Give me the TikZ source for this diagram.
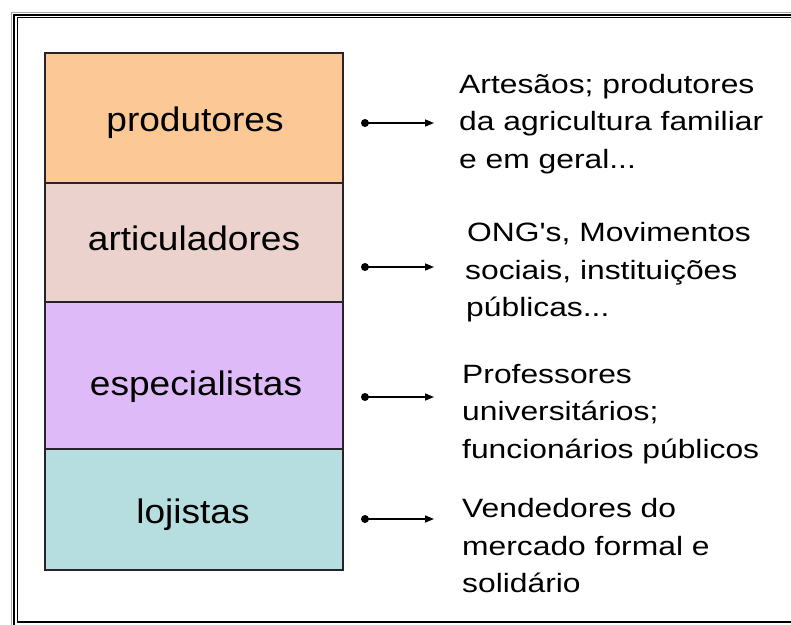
\documentclass[tikz,border=0pt]{standalone}
\usepackage{fontspec}
\setmainfont{Liberation Sans}
\newfontfamily\labfont[FakeStretch=1.09]{Liberation Sans}
\newfontfamily\txtfont[FakeStretch=1.2]{Liberation Sans}
\usetikzlibrary{arrows.meta}
\definecolor{cprod}{RGB}{252,200,150}
\definecolor{cart}{RGB}{235,210,205}
\definecolor{cesp}{RGB}{222,186,248}
\definecolor{cloj}{RGB}{182,222,224}
\definecolor{edge}{RGB}{40,35,40}
\tikzset{
  layer/.style={draw=edge, line width=1.4pt},
  lab/.style={font=\labfont\fontsize{34}{40}\selectfont, anchor=base, inner sep=0pt},
  txt/.style={font=\txtfont\fontsize{26.5}{32}\selectfont, anchor=base west, inner sep=0pt},
  dotn/.style={circle, fill=black, inner sep=0pt, minimum size=8pt},
  conn/.style={line width=1.5pt, -{Triangle[length=9pt,width=7pt]}}
}
\begin{document}
\begin{tikzpicture}[x=1pt,y=-1pt]
\useasboundingbox (0,0) rectangle (791,624);
\fill[white] (0,0) rectangle (791,624);
% frame
\begin{scope}
\clip (0,0) rectangle (791,624);
\draw[gray!70, line width=0.8pt] (11,12) rectangle (802,632);
\draw[black, line width=2pt] (14,14.7) rectangle (799,629);
\draw[black, line width=1.3pt] (17.5,17.8) rectangle (795,622);
\end{scope}
% layers
\draw[layer, fill=cprod] (45,53) rectangle (343,183);
\draw[layer, fill=cart] (45,183) rectangle (343,302);
\draw[layer, fill=cesp] (45,302) rectangle (343,449);
\draw[layer, fill=cloj] (45,449) rectangle (343,570);
\node[lab] (l1) at (195,131.5) {produtores};
\node[lab] (l2) at (194,250) {articuladores};
\node[lab] (l3) at (196,395) {especialistas};
\node[lab] (l4) at (193,523) {lojistas};
% connectors
\node[dotn] (d1) at (365,123) {};
\node[dotn] (d2) at (365,267) {};
\node[dotn] (d3) at (365,397) {};
\node[dotn] (d4) at (365,519) {};
\coordinate (e1) at (434,123);
\coordinate (e2) at (434,267);
\coordinate (e3) at (434,397);
\coordinate (e4) at (434,519);
\draw[conn] (d1.center) -- (e1);
\draw[conn] (d2.center) -- (e2);
\draw[conn] (d3.center) -- (e3);
\draw[conn] (d4.center) -- (e4);
% texts
\node[txt] (t1a) at (459,93) {Artesãos; produtores};
\node[txt] (t1b) at (459,130.5) {da agricultura familiar};
\node[txt] (t1c) at (459,168) {e em geral...};
\node[txt] (t2a) at (467,241.7) {ONG's, Movimentos};
\node[txt] (t2b) at (465,279) {sociais, instituições};
\node[txt] (t2c) at (466,316) {públicas...};
\node[txt] (t3a) at (462,383) {Professores};
\node[txt] (t3b) at (462,420.5) {universitários;};
\node[txt] (t3c) at (462,458) {funcionários públicos};
\node[txt] (t4a) at (462,517) {Vendedores do};
\node[txt] (t4b) at (462,555) {mercado formal e};
\node[txt] (t4c) at (462,592) {solidário};
\end{tikzpicture}
\end{document}
